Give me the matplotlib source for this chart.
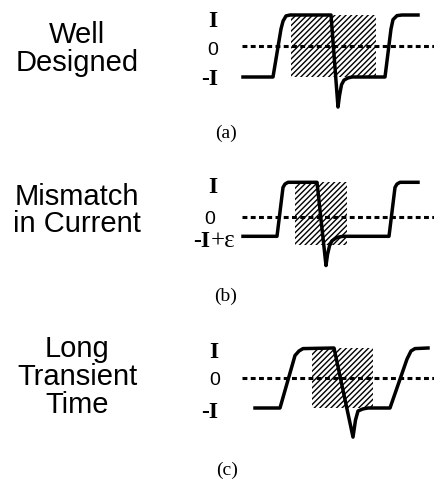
import matplotlib
matplotlib.use('Agg')
import matplotlib.pyplot as plt
from matplotlib.patches import Rectangle

W, H = 434, 481
plt.rcParams['hatch.linewidth'] = 1.0

# ---- data (time in arbitrary units, current in units of I) ----
t_a = [3, 33, 41, 43, 46, 50, 91, 98, 99.5, 101.5, 104, 108, 112, 145, 151, 153, 157, 162, 178]
i_a = [-1, -1, 0.55, 0.8, 0.97, 1, 1, -1.97, -1.6, -1.25, -1.1, -1.03, -1, -1, 0.55, 0.85, 0.98, 1, 1]
hatch_a = [51, 136, -1.0, 1.0]

t_b = [3, 37, 43, 45, 48, 77, 86, 87.5, 89.5, 92, 97, 103, 149, 155, 157, 160, 178]
i_b = [-0.57, -0.57, 0.85, 0.95, 1, 1, -1.42, -1.1, -0.85, -0.7, -0.6, -0.57, -0.57, 0.85, 0.95, 1, 1]
hatch_b = [55, 107, -0.82, 1.0]

t_c = [15, 40, 55, 59, 63, 94, 113, 115.5, 118, 123, 128, 150, 167, 171, 175, 188]
i_c = [-1, -1, 0.75, 0.9, 0.98, 1, -1.97, -1.4, -1.1, -1.03, -1, -1, 0.63, 0.9, 0.98, 1]
hatch_c = [72, 133, -1.0, 1.0]

row_titles = [["Well", "Designed"], ["Mismatch", "in Current"], ["Long", "Transient", "Time"]]
captions = ["(a)", "(b)", "(c)"]

fig = plt.figure(figsize=(W / 100, H / 100), dpi=100)

SANS = 'Liberation Sans'
SERIF = 'Liberation Serif'


def panel(y0, y1, zero_px, unit_px):
    ax = fig.add_axes([150 / W, 1 - y1 / H, (W - 150) / W, (y1 - y0) / H])
    ax.set_xlim(150 - 240, W - 240)
    ax.set_ylim((zero_px - y1) / unit_px, (zero_px - y0) / unit_px)
    ax.axis('off')
    conv = lambda x, y: (x - 240, (zero_px - y) / unit_px)
    return ax, conv


def draw(ax, t, i, hatch):
    t0, t1, v0, v1 = hatch
    ax.add_patch(Rectangle((t0, v0), t1 - t0, v1 - v0, fill=False, hatch='//////',
                           lw=0, edgecolor='black'))
    ln, = ax.plot([2, W - 240], [0, 0], color='black', lw=2.2, clip_on=False)
    ln.set_dashes((1.6, 1.1))
    ax.plot(t, i, color='black', lw=2.5, solid_joinstyle='round', clip_on=False)


# panel a
ax, cv = panel(0, 140, 47, 31)
draw(ax, t_a, i_a, hatch_a)
ax.text(*cv(212.5, 27), 'I', family=SERIF, weight='bold', fontsize=17, ha='center', va='baseline')
ax.text(*cv(213, 55), '0', family=SANS, fontsize=14, ha='center', va='baseline')
ax.text(*cv(218, 85), '-I', family=SERIF, weight='bold', fontsize=17, ha='right', va='baseline')

# panel b
ax, cv = panel(160, 290, 217.7, 34.4)
draw(ax, t_b, i_b, hatch_b)
ax.text(*cv(212.5, 193), 'I', family=SERIF, weight='bold', fontsize=17, ha='center', va='baseline')
ax.text(*cv(209.5, 224), '0', family=SANS, fontsize=14, ha='center', va='baseline')
ax.text(*cv(210, 247), '-I', family=SERIF, weight='bold', fontsize=17, ha='right', va='baseline')
ax.text(*cv(210.5, 247), '+ε', family=SERIF, fontsize=18, ha='left', va='baseline')

# panel c
ax, cv = panel(320, 450, 379, 30)
draw(ax, t_c, i_c, hatch_c)
ax.text(*cv(214, 358.3), 'I', family=SERIF, weight='bold', fontsize=17, ha='center', va='baseline')
ax.text(*cv(214.5, 385), '0', family=SANS, fontsize=14, ha='center', va='baseline')
ax.text(*cv(218, 418.3), '-I', family=SERIF, weight='bold', fontsize=17, ha='right', va='baseline')

# row titles
baselines = [[43, 71], [205, 232], [357, 385, 413]]
for lines, bls in zip(row_titles, baselines):
    for s, b in zip(lines, bls):
        fig.text(77 / W, 1 - b / H, s, family=SANS, fontsize=21, ha='center', va='baseline')

# captions
for c, (x, y) in zip(captions, [(226, 133), (226, 296), (227, 470)]):
    fig.text(x / W, 1 - y / H, c, family=SERIF, fontsize=14, ha='center', va='center')

fig.savefig('out.png', dpi=100)
